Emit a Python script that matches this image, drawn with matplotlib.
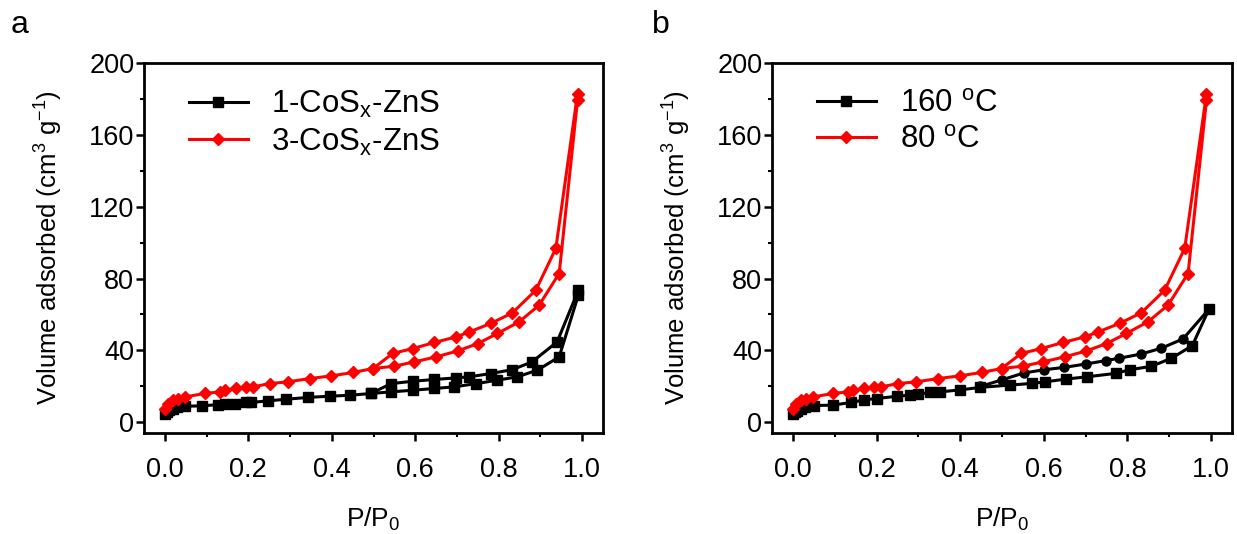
import matplotlib
matplotlib.use("Agg")
import matplotlib.pyplot as plt
from matplotlib.ticker import MultipleLocator

plt.rcParams['font.family'] = ['Liberation Sans', 'DejaVu Sans']
plt.rcParams['mathtext.fontset'] = 'custom'
plt.rcParams['mathtext.rm'] = 'Liberation Sans'
plt.rcParams['mathtext.it'] = 'Liberation Sans:italic'

# ---------------- data ----------------
# panel a, 1-CoSx-ZnS (black)
a1_ads_x = [0.0, 0.005, 0.01, 0.02, 0.03, 0.048, 0.088, 0.128, 0.144, 0.167, 0.195, 0.207,
            0.247, 0.291, 0.343, 0.395, 0.443, 0.494, 0.542, 0.594, 0.646, 0.694, 0.746,
            0.797, 0.845, 0.893, 0.945, 0.991]
a1_ads_y = [4.8, 5.7, 6.7, 7.6, 8.2, 8.9, 9.1, 9.8, 10.4, 10.4, 11.3, 11.0,
            11.9, 12.8, 13.8, 14.5, 15.0, 16.0, 16.9, 17.8, 18.8, 19.7, 21.5,
            23.4, 25.3, 29.0, 36.4, 70.8]
a1_des_x = [0.991, 0.940, 0.880, 0.833, 0.781, 0.730, 0.698, 0.646, 0.594, 0.542, 0.494]
a1_des_y = [73.5, 44.7, 33.6, 29.3, 27.1, 25.3, 24.7, 23.8, 22.8, 21.5, 16.0]

# panel a, 3-CoSx-ZnS (red)
a3_ads_x = [0.0, 0.008, 0.020, 0.032, 0.048, 0.096, 0.132, 0.144, 0.171, 0.195, 0.211,
            0.251, 0.295, 0.347, 0.399, 0.451, 0.499, 0.550, 0.598, 0.650, 0.702,
            0.750, 0.797, 0.849, 0.897, 0.945, 0.989]
a3_ads_y = [7.6, 10.4, 12.3, 13.2, 14.1, 16.0, 16.9, 17.8, 18.8, 19.7, 19.7,
            21.5, 22.5, 24.3, 25.8, 27.7, 29.9, 31.2, 33.6, 36.4, 39.7,
            43.8, 49.4, 55.9, 65.2, 82.8, 179.4]
a3_des_x = [0.989, 0.937, 0.889, 0.833, 0.781, 0.730, 0.698, 0.646, 0.594, 0.546, 0.499]
a3_des_y = [183.0, 96.8, 73.5, 60.9, 55.0, 50.3, 47.5, 44.4, 41.0, 38.3, 29.9]

# panel b, 160 oC (black)
b160_ads_x = [0.0, 0.005, 0.01, 0.02, 0.03, 0.05, 0.095, 0.139, 0.171, 0.200, 0.248, 0.280,
              0.300, 0.328, 0.352, 0.400, 0.448, 0.520, 0.572, 0.604, 0.652, 0.704,
              0.772, 0.805, 0.857, 0.905, 0.955, 0.995]
b160_ads_y = [4.5, 5.5, 6.5, 7.5, 8.3, 9.3, 9.5, 11.0, 12.5, 13.2, 14.4, 15.1,
              15.6, 16.6, 16.9, 18.0, 19.4, 20.7, 21.6, 22.5, 24.0, 25.3,
              27.2, 29.2, 31.1, 35.6, 42.6, 63.0]
b160_des_x = [0.995, 0.933, 0.881, 0.833, 0.780, 0.748, 0.700, 0.648, 0.600, 0.552, 0.500, 0.448]
b160_des_y = [63.0, 46.4, 41.2, 38.0, 35.6, 34.3, 32.4, 30.5, 29.2, 27.4, 23.6, 19.9]

# panel b, 80 oC (red)
b80_ads_x = a3_ads_x
b80_ads_y = a3_ads_y
b80_des_x = a3_des_x
b80_des_y = a3_des_y

labels_a = ['1-CoS$_\\mathregular{x}$-ZnS', '3-CoS$_\\mathregular{x}$-ZnS']
labels_b = ['160 $^\\mathregular{o}$C', '80 $^\\mathregular{o}$C']
x_ticks = [0.0, 0.2, 0.4, 0.6, 0.8, 1.0]
y_ticks = [0, 40, 80, 120, 160, 200]

# ---------------- figure ----------------
fig = plt.figure(figsize=(12.37, 5.34), dpi=100)
W, H = 1237, 534
ax_a = fig.add_axes([144 / W, 1 - 433 / H, 459 / W, 370 / H])
ax_b = fig.add_axes([772 / W, 1 - 433 / H, 460 / W, 370 / H])

lw = 2.2
ms = 6.5

def style(ax):
    ax.set_xlim(-0.05, 1.05)
    ax.set_ylim(-6, 200)
    ax.set_xticks(x_ticks)
    ax.set_yticks(y_ticks)
    ax.xaxis.set_minor_locator(MultipleLocator(0.1))
    ax.yaxis.set_minor_locator(MultipleLocator(20))
    ax.tick_params(which='major', direction='out', length=5.5, width=1.8, labelsize=19.5,
                   top=False, right=False)
    ax.tick_params(axis='x', which='major', pad=12)
    ax.tick_params(axis='y', which='major', pad=1.5)
    ax.tick_params(which='minor', direction='out', length=3, width=1.5,
                   top=False, right=False)
    ax.set_xticklabels([f"{v:.1f}" for v in x_ticks])
    for s in ax.spines.values():
        s.set_linewidth(2.0)
    ax.set_xlabel('P/P$_\\mathregular{0}$', fontsize=19, labelpad=16)
    ax.set_ylabel('Volume adsorbed (cm$^\\mathregular{3}$ g$^\\mathregular{-1}$)', fontsize=18.5, labelpad=17)

leg_kw = dict(loc='upper left', frameon=False, fontsize=22.5, handlelength=1.9,
              handletextpad=0.75, borderaxespad=0.0, bbox_to_anchor=(0.07, 0.965),
              labelspacing=0.22)

# panel a
ax_a.plot(a1_ads_x, a1_ads_y, '-s', color='black', lw=lw, ms=ms, label=labels_a[0])
ax_a.plot(a1_des_x, a1_des_y, '-s', color='black', lw=lw, ms=ms)
ax_a.plot(a3_ads_x, a3_ads_y, '-D', color='red', lw=lw, ms=ms, label=labels_a[1])
ax_a.plot(a3_des_x, a3_des_y, '-D', color='red', lw=lw, ms=ms)
style(ax_a)
ax_a.legend(**leg_kw)

# panel b
ax_b.plot(b160_ads_x, b160_ads_y, '-s', color='black', lw=lw, ms=ms, label=labels_b[0])
ax_b.plot(b160_des_x, b160_des_y, '-o', color='black', lw=lw, ms=ms)
ax_b.plot(b80_ads_x, b80_ads_y, '-D', color='red', lw=lw, ms=ms, label=labels_b[1])
ax_b.plot(b80_des_x, b80_des_y, '-D', color='red', lw=lw, ms=ms)
style(ax_b)
ax_b.legend(**leg_kw)

fig.text(11 / W, 1 - 25 / H, 'a', fontsize=23, va='center', ha='left')
fig.text(652 / W, 1 - 25 / H, 'b', fontsize=23, va='center', ha='left')

fig.savefig('out.png', dpi=100)
